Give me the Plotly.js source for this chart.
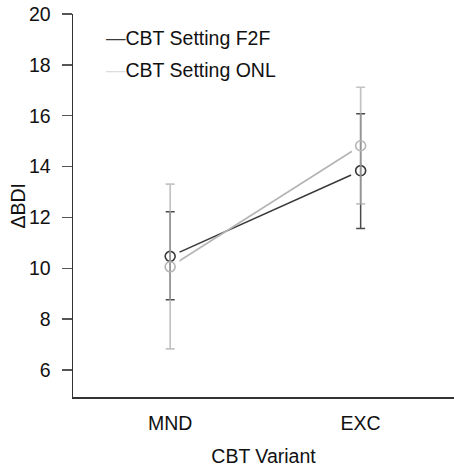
<!DOCTYPE html>
<html>
<head>
<meta charset="utf-8">
<script src="https://cdn.plot.ly/plotly-3.0.1.min.js"></script>
<style>html,body{margin:0;padding:0;background:#fff;}#chart{width:454px;height:467px;}</style>
</head>
<body>
<div id="chart"></div>
<script>
// Data
const categories = ["MND", "EXC"];
const seriesNames = ["CBT Setting F2F", "CBT Setting ONL"];
const f2fMean = [10.47, 13.84];
const f2fErrPlus = [1.75, 2.24];
const f2fErrMinus = [1.71, 2.27];
const onlMean = [10.06, 14.82];
const onlErrPlus = [3.25, 2.30];
const onlErrMinus = [3.23, 2.29];
const yTicks = [6, 8, 10, 12, 14, 16, 18, 20];

const FONT = "Liberation Sans, Arial, Helvetica, sans-serif";
const FS = 19.5;
const darkCol = "#3a3a3a";
const lightCol = "#b4b4b4";

const traces = [
  // connecting lines
  {x: categories, y: f2fMean, mode: "lines", line: {color: darkCol, width: 1.6}, showlegend: false, hoverinfo: "skip"},
  {x: categories, y: onlMean, mode: "lines", line: {color: lightCol, width: 1.6}, showlegend: false, hoverinfo: "skip"},
  // white halos creating the gap between lines and points
  {x: categories, y: f2fMean, mode: "markers", marker: {color: "#ffffff", size: 21, line: {width: 0}}, showlegend: false, hoverinfo: "skip"},
  {x: categories, y: onlMean, mode: "markers", marker: {color: "#ffffff", size: 21, line: {width: 0}}, showlegend: false, hoverinfo: "skip"},
  // points with error bars
  {x: categories, y: f2fMean, name: seriesNames[0], mode: "markers",
   marker: {symbol: "circle-open", size: 10, color: darkCol, line: {width: 1.6, color: darkCol}},
   error_y: {type: "data", symmetric: false, array: f2fErrPlus, arrayminus: f2fErrMinus, color: "#4a4a4a", thickness: 1.5, width: 4.5},
   showlegend: false},
  {x: categories, y: onlMean, name: seriesNames[1], mode: "markers",
   marker: {symbol: "circle-open", size: 10, color: lightCol, line: {width: 1.6, color: lightCol}},
   error_y: {type: "data", symmetric: false, array: onlErrPlus, arrayminus: onlErrMinus, color: "rgba(175,175,175,0.75)", thickness: 1.7, width: 4.5},
   showlegend: false}
];

const layout = {
  width: 454, height: 467,
  margin: {l: 73, r: 0, t: 14, b: 70, pad: 0},
  paper_bgcolor: "#fff", plot_bgcolor: "#fff",
  font: {family: FONT, size: FS, color: "#111"},
  showlegend: false,
  xaxis: {
    type: "category", range: [-0.51, 1.49],
    showgrid: false, zeroline: false,
    showline: true, linecolor: "#333", linewidth: 1.5,
    ticks: "", ticklabelstandoff: 8,
    tickfont: {family: FONT, size: FS, color: "#111"},
    title: {text: "CBT Variant", font: {family: FONT, size: FS, color: "#111"}, standoff: 17},
    fixedrange: true
  },
  yaxis: {
    range: [4.94, 20],
    tickvals: yTicks, ticktext: yTicks.map(String),
    showgrid: false, zeroline: false,
    showline: true, linecolor: "#333", linewidth: 1.5,
    ticks: "outside", ticklen: 10, tickwidth: 1.5, tickcolor: "#555",
    ticklabelstandoff: 7,
    tickfont: {family: FONT, size: FS, color: "#111"},
    fixedrange: true
  },
  annotations: [
    {xref: "paper", yref: "paper", x: 0, xshift: -56, y: 0.5, xanchor: "center", yanchor: "middle",
     textangle: -90, text: "ΔBDI", showarrow: false, font: {family: FONT, size: FS, color: "#111"}},
    {xref: "paper", yref: "paper", x: (104 - 73) / 381, y: (397 - 38) / 383, xanchor: "left", yanchor: "middle",
     text: '<span style="color:' + darkCol + '">—</span>' + seriesNames[0], showarrow: false,
     font: {family: FONT, size: FS, color: "#111"}},
    {xref: "paper", yref: "paper", x: (104 - 73) / 381, y: (397 - 69.5) / 383, xanchor: "left", yanchor: "middle",
     text: '<span style="color:#dddddd">—</span>' + seriesNames[1], showarrow: false,
     font: {family: FONT, size: FS, color: "#111"}}
  ]
};

Plotly.newPlot("chart", traces, layout, {displayModeBar: false, staticPlot: true});
</script>
</body>
</html>
